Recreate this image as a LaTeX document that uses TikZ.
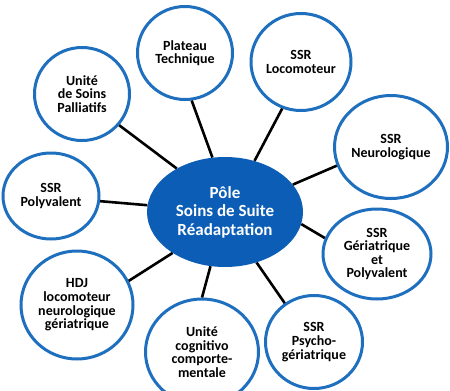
\documentclass[tikz,border=0pt]{standalone}
\usepackage{fontspec}
\setmainfont{Carlito}
\usetikzlibrary{shapes.geometric}
\definecolor{ringblue}{HTML}{1F6FBF}
\definecolor{coreblue}{HTML}{0C5DB6}
\tikzset{
  bub/.style={ellipse, draw=ringblue, line width=3pt, fill=white, align=center,
    inner sep=0pt, font=\bfseries\fontsize{14}{13.6}\selectfont, text=black},
  core/.style={ellipse, fill=coreblue, draw=none, align=center, inner sep=0pt,
    font=\bfseries\fontsize{17}{18.5}\selectfont, text=white},
  link/.style={line width=2.6pt, draw=black}
}
\begin{document}
\begin{tikzpicture}[x=1pt,y=-1pt]
\useasboundingbox (0,0) rectangle (450,391);
\node[core, minimum width=156pt, minimum height=110pt] (c) at (225,212) {Pôle\\Soins de Suite\\Réadaptation};
\node[bub, minimum width=95pt, minimum height=93pt] (pal) at (82,94) {Unité\\de Soins\\Palliatifs};
\node[bub, minimum width=95pt, minimum height=93pt] (pla) at (185,53) {Plateau\\Technique};
\node[bub, minimum width=100pt, minimum height=97pt] (loc) at (301,62) {SSR\\Locomoteur};
\node[bub, minimum width=113pt, minimum height=103pt] (neu) at (391,147) {SSR\\Neurologique};
\node[bub, minimum width=96pt, minimum height=86pt] (pol) at (51,196) {SSR\\Polyvalent};
\node[bub, minimum width=112pt, minimum height=108pt] (hdj) at (77,305) {HDJ\\locomoteur\\neurologique\\gériatrique};
\node[bub, minimum width=113pt, minimum height=106pt] (cog) at (202,352) {Unité\\cognitivo\\comporte-\\mentale};
\node[bub, minimum width=97pt, minimum height=93pt] (psy) at (314,342) {SSR\\Psycho-\\gériatrique};
\node[bub, minimum width=108pt, minimum height=90pt] (ger) at (377,254) {SSR\\Gériatrique\\et\\Polyvalent};
\draw[link] (c.138.7) -- (pal.320.8);
\draw[link] (c.103.3) -- (pla.278.5);
\draw[link] (c.60.9) -- (loc.248.8);
\draw[link] (c.22) -- (neu.199.3);
\draw[link] (c.175.6) -- (pol.354);
\draw[link] (c.218) -- (hdj.25.7);
\draw[link] (c.255) -- (cog.90);
\draw[link] (c.302) -- (psy.127);
\draw[link] (c.351) -- (ger.163);
\end{tikzpicture}
\end{document}
